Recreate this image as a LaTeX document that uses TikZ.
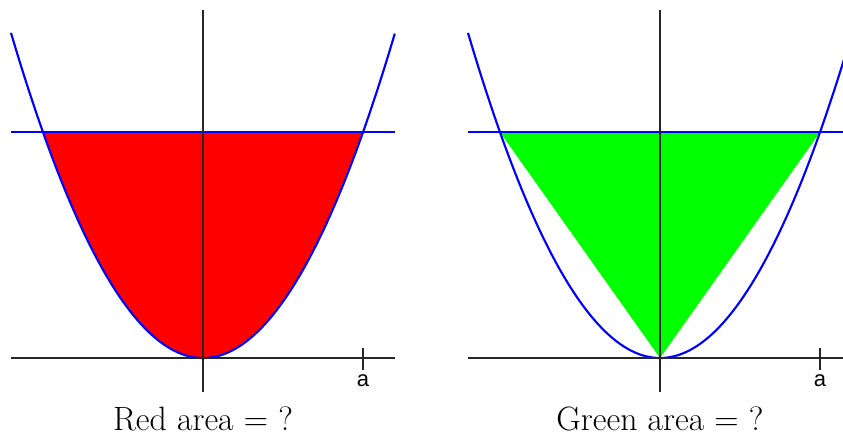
\documentclass[tikz,border=0pt]{standalone}
\usepackage{fontspec}
\newfontfamily\labfont{Liberation Sans}
\begin{document}
\begin{tikzpicture}[x=0.75pt,y=-0.75pt,
  curve/.style={blue,line width=1.6pt},
  axis/.style={black!85,line width=0.8pt},
  lab/.style={font=\labfont\fontsize{16.5}{18}\selectfont,inner sep=0pt},
  captext/.style={font=\fontsize{25.3}{30}\selectfont,inner sep=0pt,anchor=base}]
\useasboundingbox (0,0) rectangle (843,435);
% ---------- left panel ----------
\fill[red] plot[domain=-1.6:1.6,samples=120,smooth] ({203+100*\x},{358-88.2*\x*\x}) -- cycle;
\draw[curve] plot[domain=-1.92:1.92,samples=150,smooth] ({203+100*\x},{358-88.2*\x*\x});
\draw[curve] (11,132.2) -- (395,132.2);
\draw[axis] (11,358) -- (395,358);
\draw[axis] (203,10) -- (203,392);
\draw[axis] (363,348) -- (363,370);
\node[lab] (aL) at (363,381) {a};
\node[captext] (capL) at (203,430.5) {Red area = ?};
% ---------- right panel ----------
\begin{scope}
\clip (440,0) rectangle (843,435);
\fill[green] (500,132.2) -- (820,132.2) -- (660,358) -- cycle;
\draw[curve] plot[domain=-1.92:1.92,samples=150,smooth] ({660+100*\x},{358-88.2*\x*\x});
\draw[curve] (468,132.2) -- (852,132.2);
\draw[axis] (468,358) -- (852,358);
\draw[axis] (660,10) -- (660,392);
\draw[axis] (820,348) -- (820,370);
\end{scope}
\node[lab] (aR) at (820,381) {a};
\node[captext] (capR) at (660,430.5) {Green area = ?};
\end{tikzpicture}
\end{document}
